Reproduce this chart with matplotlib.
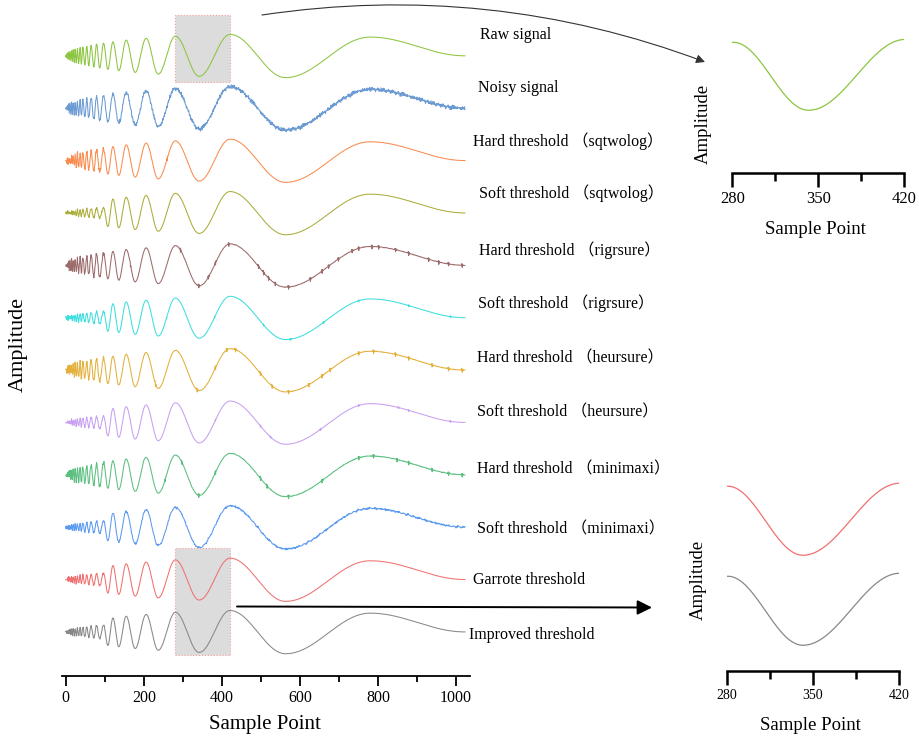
import numpy as np
import matplotlib

matplotlib.use("Agg")
import matplotlib.pyplot as plt
from matplotlib.patches import FancyArrowPatch, Rectangle

plt.rcParams["font.family"] = ["Liberation Serif", "Noto Sans CJK SC"]

W, H = 919, 736
N_SAMPLES = 1024
OFFSET_STEP = 1.2
EARLY_CUT = 100

# Extrema of the clean Doppler test signal: sample index and signed amplitude
EXT_POS = [0, 1, 2, 3, 5, 6, 8, 9, 11, 13, 15, 17, 19, 22, 24, 27, 30, 33, 37, 40,
           44, 49, 54, 59, 65, 72, 79, 87, 97, 108, 121, 136, 155, 178, 206, 237,
           281, 342, 421, 563, 780, 1023]
EXT_AMP = [0.0, -0.03, 0.04, -0.05, 0.07, -0.08, 0.09, -0.09, 0.10, -0.11, 0.12,
           -0.13, 0.14, -0.15, 0.15, -0.16, 0.17, -0.18, 0.19, -0.19, 0.20, -0.21,
           0.22, -0.23, 0.24, -0.26, 0.27, -0.28, 0.29, -0.31, 0.32, -0.34, 0.36,
           -0.38, 0.40, -0.42, 0.45, -0.47, 0.49, -0.50, 0.43, 0.0]

# additive white noise, in steps of NOISE_UNIT
NOISE_PATTERN = [
    1, -2, 0, 3, -1, -3, 2, 1, -1, 0, 2, -2, 3, -1, 0, 1,
    -3, 2, -1, 1, 0, -2, 3, 1, -2, -1, 2, 0, -3, 1, 2, -1,
    0, -2, 1, 3, -1, -2, 0, 2, 1, -3, 2, -1, 0, 1, -2, 3,
    -1, 0, -1, 2, -3, 1, 0, 2, -2, -1, 3, 0, -1, 1, -2, 2,
    1, -3, 0, 2, -1, 1, -2, 3, 0, -1, -2, 1, 2, -3, 1, 0,
    2, -1, -2, 1, 3, -2, 0, 1, -1, 2, -3, 0, 1, -1, 2, -2,
    0, 3, -1, 1, -2, 0, 2, -1, -3, 1, 2, 0, -1, 3, -2, 1,
    0, -1, 2, -2, 1, -3, 0, 2, 1, -1, -2, 3, 0, -1, 1, -2,
]
NOISE_UNIT = 0.014

SERIES_NAMES = [
    "Raw signal",
    "Noisy signal",
    "Hard threshold （sqtwolog）",
    "Soft threshold （sqtwolog）",
    "Hard threshold （rigrsure）",
    "Soft threshold （rigrsure）",
    "Hard threshold （heursure）",
    "Soft threshold （heursure）",
    "Hard threshold （minimaxi）",
    "Soft threshold （minimaxi）",
    "Garrote threshold",
    "Improved threshold",
]
SERIES_COLORS = [
    "#8CC540", "#6B9BD2", "#F98C4E", "#ABAD3A", "#9C6B6B", "#3EDEDE",
    "#E3B03C", "#C8A0F0", "#5CBF80", "#5C9AF0", "#F07070", "#888888",
]
# gain on the fast oscillations at the start of each trace
EARLY_GAIN = [1.0, 1.0, 0.9, 0.4, 0.95, 0.5, 0.95, 0.5, 0.95, 0.5, 0.5, 0.55]
# white noise kept over the whole trace / only in the first samples
NOISE_GAIN = [0, 0.8, 0, 0, 0, 0, 0, 0, 0, 0, 0, 0]
EARLY_NOISE = [0, 0, 1.2, 0.6, 1.0, 0.6, 1.0, 0.6, 1.0, 0.6, 0.6, 0.5]
# slow wiggle (smoothed noise)
WIGGLE_GAIN = [0, 3.0, 0, 0, 0.6, 0, 0.6, 0, 0.8, 2.5, 0, 0]
# residual spikes left by each threshold
GLITCH_POS = [
    [],
    [],
    [259],
    [],
    [165, 293, 340, 365, 383, 417, 493, 506, 519, 536, 570, 626, 656, 673, 698,
     733, 750, 784, 801, 844, 878, 929, 955, 980, 1015],
    [258, 381, 506, 575, 660, 750, 878, 985],
    [229, 336, 383, 412, 434, 498, 528, 570, 622, 656, 677, 750, 788, 844, 878,
     938, 980, 1015],
    [383, 498, 524, 652, 750, 852, 878, 985],
    [254, 297, 340, 383, 498, 515, 570, 656, 750, 788, 848, 878, 938, 980, 1015],
    [],
    [],
    [],
]
GLITCH_SIZE = [0, 0, 0.05, 0, 0.05, 0.025, 0.05, 0.025, 0.05, 0, 0, 0]
GLITCH_SHAPE = [0.7, -1.0, 0.5, -0.2]

LABEL_X_PX = [480, 478, 473, 479, 479, 478, 477, 477, 477, 477, 473, 469]
LABEL_Y_PX = [35, 88, 141, 193, 250, 303, 358, 412, 469, 529, 580, 635]

x = np.arange(N_SAMPLES)


def build_trace(i):
    gain = np.where(np.array(EXT_POS) < EARLY_CUT, EARLY_GAIN[i], 1.0)
    amp = np.array(EXT_AMP) * gain
    y = np.zeros(N_SAMPLES)
    # each half wave between two neighbouring extrema is a half cosine
    for p0, p1, a0, a1 in zip(EXT_POS[:-1], EXT_POS[1:], amp[:-1], amp[1:]):
        seg = (x >= p0) & (x <= p1)
        ph = np.pi * (x[seg] - p0) / (p1 - p0)
        y[seg] = (a0 + a1) / 2 + (a0 - a1) / 2 * np.cos(ph)

    noise = np.roll(np.resize(np.array(NOISE_PATTERN, float), N_SAMPLES), 37 * i) * NOISE_UNIT
    y += NOISE_GAIN[i] * noise
    y[:EARLY_CUT] += EARLY_NOISE[i] * noise[:EARLY_CUT]
    slow = np.roll(noise, 53)
    wiggle = np.convolve(slow, np.ones(5) / 5, mode="same")
    y += WIGGLE_GAIN[i] * wiggle * (x > 120)

    for p in GLITCH_POS[i]:
        for k, s in enumerate(GLITCH_SHAPE):
            if p + k < N_SAMPLES:
                y[p + k] += GLITCH_SIZE[i] * s
    return y


traces = [build_trace(i) for i in range(len(SERIES_NAMES))]
n = len(traces)
offsets = [OFFSET_STEP * (n - 1 - i) for i in range(n)]


def style_bottom_axis(ax, lw, major_len, minor_len, labelsize):
    for side in ("left", "right", "top"):
        ax.spines[side].set_visible(False)
    ax.spines["bottom"].set_linewidth(lw)
    ax.set_yticks([])
    ax.tick_params(axis="x", which="major", direction="out", length=major_len,
                   width=lw, labelsize=labelsize, pad=3)
    ax.tick_params(axis="x", which="minor", direction="out", length=minor_len, width=lw)
    ax.patch.set_alpha(0)


fig = plt.figure(figsize=(W / 100, H / 100), dpi=100)


def fig_pt(px, py):
    return px / W, 1 - py / H


# main stacked panel
ax = fig.add_axes([62 / W, 1 - 676 / H, 408 / W, 666 / H])
ax.set_xlim(-9.5, 1036)
ax.set_ylim(-1.01, 14.25)
style_bottom_axis(ax, 1.3, 7, 4, 11.5)
ax.set_xticks([0, 200, 400, 600, 800, 1000])
ax.set_xticks([100, 300, 500, 700, 900], minor=True)

for y, off, c in zip(traces, offsets, SERIES_COLORS):
    ax.plot(x, y + off, color=c, lw=0.75, zorder=3)

# zoom windows on the raw trace and on the last two traces
ax.add_patch(Rectangle((280, offsets[0] - 0.60), 140, 1.54, facecolor="#DCDCDC",
                       edgecolor="#F2A0A0", lw=0.8, ls=":", zorder=1))
ax.add_patch(Rectangle((280, offsets[-1] - 0.53), 140, 2.45, facecolor="#DCDCDC",
                       edgecolor="#F2A0A0", lw=0.8, ls=":", zorder=1))

for name, lx, ly in zip(SERIES_NAMES, LABEL_X_PX, LABEL_Y_PX):
    fig.text(*fig_pt(lx, ly), name, fontsize=11.5, ha="left", va="center")

fig.text(*fig_pt(265, 724), "Sample Point", fontsize=15, ha="center", va="center")
fig.text(*fig_pt(18, 345), "Amplitude", fontsize=16, rotation=90, ha="center", va="center")

# zoom on the raw signal
ax_top = fig.add_axes([732.3 / W, 1 - 172.7 / H, 172 / W, 142.7 / H])
ax_top.set_xlim(280, 420)
ax_top.set_ylim(-1.315, 0.617)
style_bottom_axis(ax_top, 1.8, 10, 6, 12)
ax_top.set_xticks([280, 350, 420])
ax_top.set_xticks([315, 385], minor=True)
ax_top.plot(x[280:421], traces[0][280:421], color=SERIES_COLORS[0], lw=0.9)
fig.text(*fig_pt(815, 229), "Sample Point", fontsize=13.5, ha="center", va="center")
fig.text(*fig_pt(703, 124), "Amplitude", fontsize=13.5, rotation=90, ha="center", va="center")

# zoom on garrote / improved thresholds
ax_bot = fig.add_axes([726.7 / W, 1 - 671.3 / H, 172 / W, 191.3 / H])
ax_bot.set_xlim(280, 420)
ax_bot.set_ylim(-0.817, 1.733)
style_bottom_axis(ax_bot, 1.8, 10, 6, 10)
ax_bot.set_xticks([280, 350, 420])
ax_bot.set_xticks([315, 385], minor=True)
ax_bot.plot(x[280:421], traces[-2][280:421] + OFFSET_STEP, color=SERIES_COLORS[-2], lw=0.9)
ax_bot.plot(x[280:421], traces[-1][280:421], color=SERIES_COLORS[-1], lw=0.9)
fig.text(*fig_pt(810, 726), "Sample Point", fontsize=13.5, ha="center", va="center")
fig.text(*fig_pt(698, 580), "Amplitude", fontsize=13.5, rotation=90, ha="center", va="center")

# arrows tying the windows to their zoomed panels
fig.patches.append(FancyArrowPatch(fig_pt(262, 15), fig_pt(705, 62), transform=fig.transFigure,
                                   connectionstyle="arc3,rad=-0.13", arrowstyle="-|>",
                                   mutation_scale=13, lw=0.8, color="#333333",
                                   shrinkA=0, shrinkB=0))
fig.patches.append(FancyArrowPatch(fig_pt(237, 606.5), fig_pt(652, 607.5), transform=fig.transFigure,
                                   arrowstyle="-|>", mutation_scale=22, lw=1.4, color="black",
                                   shrinkA=0, shrinkB=0))

fig.savefig("out.png", dpi=100)
